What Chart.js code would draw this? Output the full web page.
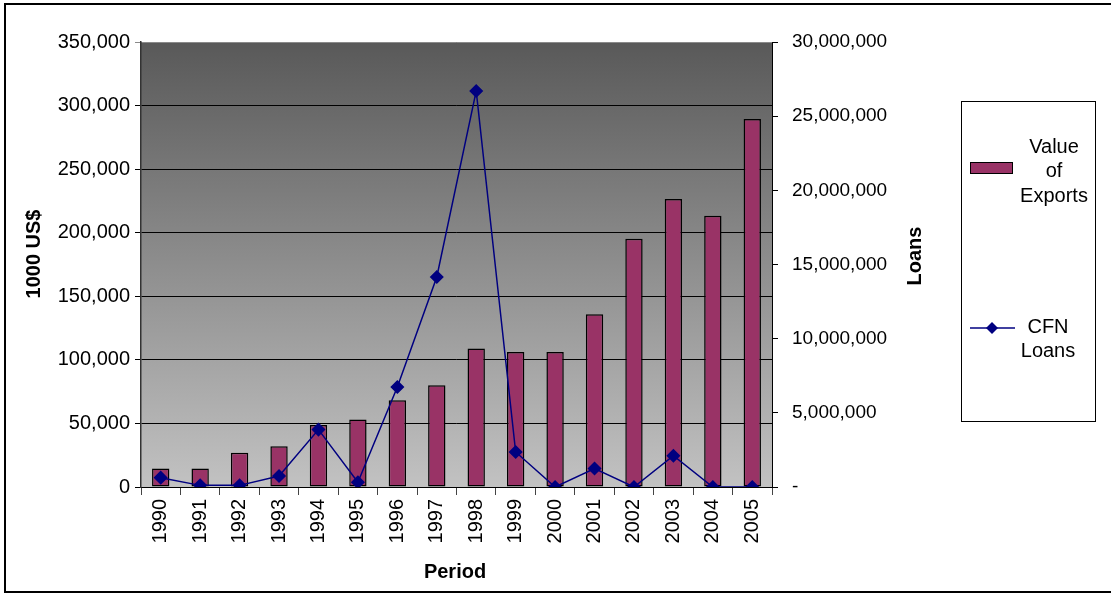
<!DOCTYPE html>
<html>
<head>
<meta charset="utf-8">
<script src="https://cdn.jsdelivr.net/npm/chart.js@4/dist/chart.umd.min.js"></script>
<style>
  html, body { margin: 0; padding: 0; background: #fff; }
  #wrap { position: relative; width: 1111px; height: 594px; }
</style>
</head>
<body>
<div id="wrap"><canvas id="grafico" width="1111" height="594"></canvas></div>
<script>
// Datos
const periodos = ['1990', '1991', '1992', '1993', '1994', '1995', '1996', '1997',
                  '1998', '1999', '2000', '2001', '2002', '2003', '2004', '2005'];
const valorExportaciones = [14500, 14500, 27000, 32000, 48800, 53000, 68200, 80000,
                            109000, 106200, 106200, 135800, 195300, 226500, 213400, 289400];
const prestamosCFN = [630000, 110000, 110000, 740000, 3870000, 320000, 6740000, 14160000,
                      26700000, 2360000, 0, 1250000, 0, 2110000, 0, 0];
const ticksIzq = [0, 50000, 100000, 150000, 200000, 250000, 300000, 350000];
const ticksDer = [0, 5000000, 10000000, 15000000, 20000000, 25000000, 30000000];

const FUENTE = '"Liberation Sans", Arial, sans-serif';
const COLOR_BARRA = '#993366';
const COLOR_LINEA = '#000080';

// Fondo degradado del área del gráfico y marco exterior
const fondoPlugin = {
    id: 'fondo',
    beforeDraw(chart) {
        const { ctx, chartArea: a } = chart;
        ctx.save();
        const g = ctx.createLinearGradient(0, a.top, 0, a.bottom);
        g.addColorStop(0, '#595959');
        g.addColorStop(1, '#c2c2c2');
        ctx.fillStyle = g;
        ctx.fillRect(a.left, a.top, a.right - a.left, a.bottom - a.top);
        ctx.restore();
    },
    afterDraw(chart) {
        const { ctx } = chart;
        ctx.save();
        ctx.strokeStyle = '#000';
        ctx.lineWidth = 2;
        ctx.strokeRect(5, 4, 1120, 588);

        // Títulos de los ejes
        ctx.fillStyle = '#000';
        ctx.font = 'bold 20px ' + FUENTE;
        ctx.textAlign = 'center';
        ctx.textBaseline = 'middle';
        ctx.fillText('Period', 455, 572);
        ctx.save();
        ctx.translate(34, 254);
        ctx.rotate(-Math.PI / 2);
        ctx.fillText('1000 US$', 0, 0);
        ctx.restore();
        ctx.save();
        ctx.translate(915, 256);
        ctx.rotate(-Math.PI / 2);
        ctx.fillText('Loans', 0, 0);
        ctx.restore();

        // Leyenda
        ctx.lineWidth = 1;
        ctx.strokeStyle = '#000';
        ctx.strokeRect(961.5, 101.5, 134, 320);
        ctx.font = '20px ' + FUENTE;
        const sets = chart.data.datasets;
        // barra
        ctx.fillStyle = COLOR_BARRA;
        ctx.fillRect(970, 162, 43, 12);
        ctx.strokeRect(970.5, 162.5, 42, 11);
        ctx.fillStyle = '#000';
        sets[1].label.split(' ').forEach((p, i) => ctx.fillText(p, 1054, 147 + i * 24.5));
        // línea
        ctx.strokeStyle = COLOR_LINEA;
        ctx.lineWidth = 1.5;
        ctx.beginPath();
        ctx.moveTo(970, 328);
        ctx.lineTo(1015, 328);
        ctx.stroke();
        ctx.fillStyle = COLOR_LINEA;
        ctx.beginPath();
        ctx.moveTo(992, 322);
        ctx.lineTo(998, 328);
        ctx.lineTo(992, 334);
        ctx.lineTo(986, 328);
        ctx.closePath();
        ctx.fill();
        ctx.fillStyle = '#000';
        sets[0].label.split(' ').forEach((p, i) => ctx.fillText(p, 1048, 327 + i * 24));
        ctx.restore();
    }
};

const fmt = v => v.toLocaleString('en-US');

new Chart(document.getElementById('grafico').getContext('2d'), {
    data: {
        labels: periodos,
        datasets: [{
            type: 'line',
            label: 'CFN Loans',
            data: prestamosCFN,
            yAxisID: 'yDer',
            borderColor: COLOR_LINEA,
            backgroundColor: COLOR_LINEA,
            borderWidth: 1.5,
            pointStyle: 'rectRot',
            pointRadius: 6,
            pointBackgroundColor: COLOR_LINEA,
            pointBorderColor: COLOR_LINEA,
            tension: 0,
            order: 1
        }, {
            type: 'bar',
            label: 'Value of Exports',
            data: valorExportaciones,
            yAxisID: 'yIzq',
            backgroundColor: COLOR_BARRA,
            borderColor: '#000',
            borderWidth: 1.5,
            borderSkipped: false,
            categoryPercentage: 1,
            barPercentage: 0.44,
            order: 2
        }]
    },
    options: {
        responsive: false,
        animation: false,
        layout: { padding: { top: 42, left: 0, right: 0, bottom: 0 } },
        plugins: { legend: { display: false }, tooltip: { enabled: false } },
        scales: {
            x: {
                offset: true,
                afterFit(s) { s.height = 107; },
                grid: { offset: true, drawOnChartArea: false, tickLength: 8, color: '#444', lineWidth: 1 },
                border: { display: true, color: '#000', width: 1 },
                ticks: {
                    autoSkip: false, minRotation: 90, maxRotation: 90, padding: 4,
                    color: '#000', font: { family: FUENTE, size: 20 }
                }
            },
            yIzq: {
                position: 'left',
                min: 0, max: 350000,
                afterFit(s) { s.width = 141; },
                afterBuildTicks(s) { s.ticks = ticksIzq.map(v => ({ value: v })); },
                grid: {
                    color: ctx => (ctx.tick && ctx.tick.value === 350000) ? '#8a8a8a' : '#000',
                    lineWidth: 1, tickLength: 6
                },
                border: { display: true, color: '#333', width: 1.5 },
                ticks: {
                    padding: 5, color: '#000', font: { family: FUENTE, size: 20 },
                    callback: v => fmt(v)
                }
            },
            yDer: {
                position: 'right',
                min: 0, max: 30000000,
                afterFit(s) { s.width = 339; },
                afterBuildTicks(s) { s.ticks = ticksDer.map(v => ({ value: v })); },
                grid: { drawOnChartArea: false, tickLength: 6, color: '#000' },
                border: { display: true, color: '#000', width: 1 },
                ticks: {
                    padding: 14, color: '#000', font: { family: FUENTE, size: 19 },
                    callback: v => v === 0 ? '-' : fmt(v)
                }
            }
        }
    },
    plugins: [fondoPlugin]
});
</script>
</body>
</html>
